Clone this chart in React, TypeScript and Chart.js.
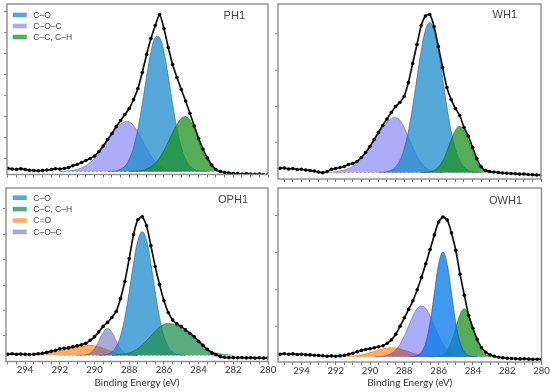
import React, { useEffect, useRef } from 'react';
import { Chart, registerables } from 'chart.js';

Chart.register(...registerables);

const _ = null;

// Binding energy grid (eV), shared by every series
const ENERGY = [
  295.5, 295.25, 295, 294.75, 294.5, 294.25, 294, 293.75, 293.5, 293.25,
  293, 292.75, 292.5, 292.25, 292, 291.75, 291.5, 291.25, 291, 290.75,
  290.5, 290.25, 290, 289.75, 289.5, 289.25, 289, 288.75, 288.5, 288.25,
  288, 287.75, 287.5, 287.25, 287, 286.75, 286.5, 286.25, 286, 285.75,
  285.5, 285.25, 285, 284.75, 284.5, 284.25, 284, 283.75, 283.5, 283.25,
  283, 282.75, 282.5, 282.25, 282, 281.75, 281.5, 281.25, 281, 280.75,
  280.5, 280.25, 280,
];

// ---------- PH1 ----------
const PH1_DATA = [
  3, 3.5, 3.2, 2.5, 2.2, 2.8, 2.0, 1.2, 1.0, 0.8,
  1.0, 1.5, 2.0, 2.8, 2.5, 3.0, 4.0, 5.8, 7.0, 9.0,
  11, 13, 15.5, 20, 25.5, 32, 38, 45, 51, 57,
  63, 72, 83, 99, 117, 133, 146, 157, 143, 124,
  107, 94, 82, 70.5, 58, 45.5, 33, 22.5, 13.5, 6.5,
  2, 0, -1, -1.5, -2, -2, -2.5, -2.2, -2.5, -2.8,
  -2.5, -3, -3,
];
const PH1_CO = [
  _, _, _, _, _, _, _, _, _, _,
  _, _, _, _, _, _, _, _, _, _,
  _, _, _, _, _, 0, 0.25, 0.8, 2.2, 5.5,
  12.2, 24.2, 42.8, 67.6, 95.2, 119.6, 134.1, 134.1, 119.6, 95.2,
  67.6, 42.8, 24.2, 12.2, 5.5, 2.2, 0.8, 0.25, 0, _,
  _, _, _, _, _, _, _, _, _, _,
  _, _, _,
];
const PH1_COC = [
  _, _, _, _, _, _, _, _, _, _,
  _, _, _, _, 0, 0.3, 0.7, 1.2, 2.2, 3.7,
  5.9, 9.1, 13.2, 18.4, 24.5, 31.0, 37.4, 43.1, 47.4, 49.7,
  49.5, 45.8, 39.3, 31.2, 22.9, 15.6, 9.8, 5.7, 3.1, 1.5,
  0.7, 0.3, 0, _, _, _, _, _, _, _,
  _, _, _, _, _, _, _, _, _, _,
  _, _, _,
];
const PH1_CC = [
  _, _, _, _, _, _, _, _, _, _,
  _, _, _, _, _, _, _, _, _, _,
  _, _, _, _, _, _, _, _, _, _,
  0, 0.2, 0.5, 1.2, 2.4, 4.7, 8.3, 13.7, 21.0, 29.7,
  38.9, 47.1, 52.9, 55, 51.6, 42.6, 31.0, 19.8, 11.2, 5.5,
  2.4, 0.9, 0.3, 0, _, _, _, _, _, _,
  _, _, _,
];
const PH1_YTICKS = [13, 34, 55, 76, 97, 118, 139, 160];
const PH1_LEGEND = ['C–O', 'C–O–C', 'C–C, C–H'];

// ---------- WH1 ----------
const WH1_DATA = [
  4, 4.2, 4.5, 3.5, 4, 3, 3.2, 2.5, 2, 1.5,
  0.5, -0.2, 1, 3.2, 4, 5, 6, 8, 9, 11,
  15, 20, 26, 33, 40, 47, 53.5, 60, 66, 70,
  76, 90, 109, 128, 147, 156.5, 158, 146, 126, 105,
  85, 73, 64, 57, 45, 36.5, 25, 14, 5.7, 2,
  1, 0.5, 0, -0.5, -0.8, -1, -1.2, -1.6, -1.5, -2,
  -2.2, -2.5, -2.5,
];
const WH1_CO = [
  _, _, _, _, _, _, _, _, _, _,
  _, _, _, _, _, _, _, _, _, _,
  _, _, _, _, 0, 0.3, 0.9, 2.3, 5.6, 12.1,
  23.6, 41.5, 65.9, 94.5, 122.1, 142.5, 150, 142.5, 122.1, 94.5,
  65.9, 41.5, 23.6, 12.1, 5.6, 2.3, 0.9, 0.3, 0, _,
  _, _, _, _, _, _, _, _, _, _,
  _, _, _,
];
const WH1_COC = [
  _, _, _, _, _, _, _, _, _, _,
  _, _, 0, 0.4, 0.8, 1.4, 2.4, 4.0, 6.3, 9.5,
  13.7, 19, 25.2, 32, 38.9, 45.2, 50.4, 53.8, 55, 52.4,
  45.2, 35.4, 25.2, 16.2, 9.5, 5.0, 2.4, 1.1, 0.4, 0,
  _, _, _, _, _, _, _, _, _, _,
  _, _, _, _, _, _, _, _, _, _,
  _, _, _,
];
const WH1_CC = [
  _, _, _, _, _, _, _, _, _, _,
  _, _, _, _, _, _, _, _, _, _,
  _, _, _, _, _, _, _, _, _, _,
  _, _, _, _, 0, 0.2, 0.65, 2.0, 5.3, 11.5,
  21.1, 32.5, 42.2, 46, 42.2, 32.5, 21.1, 11.5, 5.3, 2.0,
  0.65, 0.2, 0, _, _, _, _, _, _, _,
  _, _, _,
];
const WH1_YTICKS = [30, 66, 102.5, 139];

// ---------- OPH1 ----------
const OPH1_DATA = [
  1, 1.5, 1, 1.5, 1, 1.2, 1, 0.8, 1, 1.5,
  2, 3, 4, 5, 6.5, 7, 7.5, 8.5, 9.5, 10.5,
  12, 15, 18.5, 23.5, 29, 33, 38, 44, 57, 74,
  97, 121, 136, 139, 130, 110, 89, 71, 55, 43,
  35.5, 31.5, 28.8, 25.5, 22, 18.5, 14, 10, 6, 2.5,
  0.5, -1.3, -2, -2.3, -2.3, -2.5, -2.3, -2.6, -2.4, -2.8,
  -2.5, -2.8, -2.8,
];
const OPH1_CO = [
  _, _, _, _, _, _, _, _, _, _,
  _, _, _, _, _, _, _, _, _, _,
  _, _, _, 0, 0.3, 1.1, 3.3, 8.7, 19.5, 38.0,
  63.7, 92.2, 115.2, 124, 115.2, 92.2, 63.7, 38.0, 19.5, 8.7,
  3.3, 1.1, 0.3, 0, _, _, _, _, _, _,
  _, _, _, _, _, _, _, _, _, _,
  _, _, _,
];
const OPH1_CC = [
  _, _, _, _, _, _, _, _, _, _,
  _, _, _, _, _, _, _, _, _, _,
  _, _, _, _, _, _, 0, 0.35, 0.7, 1.4,
  2.5, 4.3, 6.9, 10.4, 14.7, 19.4, 24.2, 28.2, 31, 32,
  31.4, 29.7, 27.1, 23.8, 20.2, 16.4, 12.9, 9.8, 6.5, 4.0,
  2.4, 1.4, 0.8, 0.4, 0, _, _, _, _, _,
  _, _, _,
];
const OPH1_CEO = [
  _, _, _, _, _, _, 0, 0.44, 0.7, 1.0,
  1.5, 2.0, 2.7, 3.6, 4.6, 5.6, 6.7, 7.7, 8.7, 9.4,
  9.8, 10, 9.6, 8.6, 7.1, 5.4, 3.8, 2.5, 1.5, 0.85,
  0.44, 0.2, 0, _, _, _, _, _, _, _,
  _, _, _, _, _, _, _, _, _, _,
  _, _, _, _, _, _, _, _, _, _,
  _, _, _,
];
const OPH1_COC = [
  _, _, _, _, _, _, _, _, _, _,
  _, _, _, _, _, _, _, _, 0, 0.1,
  0.6, 2.3, 6.7, 14.6, 23.1, 27, 23.1, 14.6, 6.7, 2.3,
  0.6, 0.1, 0, _, _, _, _, _, _, _,
  _, _, _, _, _, _, _, _, _, _,
  _, _, _, _, _, _, _, _, _, _,
  _, _, _,
];
const OPH1_YTICKS = [19.5, 45, 70.5, 96, 121.5, 147];
const OPH1_LEGEND = ['C–O', 'C–C, C–H', 'C=O', 'C–O–C'];

// ---------- OWH1 ----------
const OWH1_DATA = [
  3, 2.5, 3, 2.5, 2.8, 2.2, 2.5, 2, 1.8, 1.5,
  1.2, 1, 0.5, 0.8, 0.5, 0.8, 1.5, 2.5, 3.5, 5,
  6.3, 7.2, 8, 9, 10, 11, 13.5, 17, 22.5, 30.5,
  39, 47.4, 56, 67, 79.5, 93, 107.4, 122, 135, 140,
  137, 124, 106.6, 82.5, 61.5, 41.5, 28.5, 17.4, 9, 4.5,
  2, 0.5, -0.5, -1, -1.5, -1.8, -2, -2.2, -2, -2.4,
  -2.6, -2.5, -2.6,
];
const OWH1_CO = [
  _, _, _, _, _, _, _, _, _, _,
  _, _, _, _, _, _, _, _, _, _,
  _, _, _, _, _, _, _, _, _, _,
  _, 0, 0.2, 1.2, 4.6, 14.2, 34.1, 63.7, 92.7, 105,
  92.7, 63.7, 34.1, 14.2, 4.6, 1.2, 0.2, 0, _, _,
  _, _, _, _, _, _, _, _, _, _,
  _, _, _,
];
const OWH1_COC = [
  _, _, _, _, _, _, _, _, _, _,
  _, _, _, _, _, _, _, _, _, _,
  _, _, _, 0, 0.2, 0.6, 1.5, 3.4, 6.9, 12.7,
  21.0, 30.9, 40.8, 48.2, 51, 48.2, 40.8, 30.9, 21.0, 12.7,
  6.9, 3.4, 1.5, 0.6, 0.2, 0, _, _, _, _,
  _, _, _, _, _, _, _, _, _, _,
  _, _, _,
];
const OWH1_CC = [
  _, _, _, _, _, _, _, _, _, _,
  _, _, _, _, _, _, _, _, _, _,
  _, _, _, _, _, _, _, _, _, _,
  _, _, _, _, _, _, 0, 0.1, 0.5, 2.1,
  6.5, 15.6, 29.1, 42.4, 48, 42.4, 29.1, 15.6, 6.5, 2.1,
  0.5, 0.1, 0, _, _, _, _, _, _, _,
  _, _, _,
];
const OWH1_CEO = [
  _, _, _, _, _, _, _, _, _, _,
  _, _, _, _, _, _, 0, 0.4, 0.7, 1.2,
  1.9, 2.9, 4.1, 5.5, 6.8, 7.9, 8.7, 9, 8.7, 7.7,
  6.4, 4.9, 3.4, 2.2, 1.4, 0.8, 0.4, 0, _, _,
  _, _, _, _, _, _, _, _, _, _,
  _, _, _, _, _, _, _, _, _, _,
  _, _, _,
];
const OWH1_YTICKS = [30.5, 67.5, 104.5, 141.5];

// background baseline span, eV
const BASE_SPAN = [292, 282.5];
const AXIS_TITLE = 'Binding Energy (eV)';

// ---------- styles ----------
const C_BLUE = { fill: 'rgba(30,139,203,0.75)', border: 'rgba(25,90,140,0.8)' };
const C_BLUE2 = { fill: 'rgba(12,124,234,0.78)', border: 'rgba(20,70,140,0.8)' };
const C_LAV = { fill: 'rgba(12,12,235,0.34)', border: 'rgba(60,60,160,0.6)' };
const C_LAV2 = { fill: 'rgba(83,83,177,0.5)', border: 'rgba(60,60,120,0.6)' };
const C_GREEN = { fill: 'rgba(28,146,35,0.75)', border: 'rgba(20,80,25,0.7)' };
const C_SEA = { fill: 'rgba(35,143,85,0.75)', border: 'rgba(20,80,50,0.7)' };
const C_ORANGE = { fill: 'rgba(255,146,43,0.75)', border: 'rgba(170,90,30,0.6)' };

type Comp = { label: string; values: (number | null)[]; fill: string; border: string; order: number };
type PanelSpec = {
  key: string;
  canvas: { x: number; y: number; w: number; h: number };
  area: { left: number; top: number; right: number; bottom: number };
  xMax: number;
  yMin: number;
  yMax: number;
  yTicks: number[];
  data: number[];
  comps: Comp[];
  legend: string[] | null;
  legendY0: number;
  legendDy: number;
  legendDx: number;
  xLabels: boolean;
  nameDx: number;
  nameDy: number;
};

const PANELS: PanelSpec[] = [
  {
    key: 'PH1',
    canvas: { x: 0, y: 0, w: 280, h: 184 },
    area: { left: 7, top: 4, right: 268, bottom: 174.5 },
    xMax: 295.05, yMin: -3, yMax: 167.5, yTicks: PH1_YTICKS, data: PH1_DATA,
    comps: [
      { label: 'C–C, C–H', values: PH1_CC, ...C_GREEN, order: 1 },
      { label: 'C–O', values: PH1_CO, ...C_BLUE, order: 2 },
      { label: 'C–O–C', values: PH1_COC, ...C_LAV, order: 3 },
    ],
    legend: PH1_LEGEND, legendY0: 11, legendDy: 11, legendDx: 5.7,
    xLabels: false, nameDx: 23, nameDy: 12,
  },
  {
    key: 'WH1',
    canvas: { x: 270, y: 0, w: 280, h: 184 },
    area: { left: 278, top: 4, right: 541, bottom: 179 },
    xMax: 295.37, yMin: -6.5, yMax: 168.5, yTicks: WH1_YTICKS, data: WH1_DATA,
    comps: [
      { label: 'C–C, C–H', values: WH1_CC, ...C_GREEN, order: 1 },
      { label: 'C–O', values: WH1_CO, ...C_BLUE, order: 2 },
      { label: 'C–O–C', values: WH1_COC, ...C_LAV, order: 3 },
    ],
    legend: null, legendY0: 0, legendDy: 0, legendDx: 0,
    xLabels: false, nameDx: 24, nameDy: 11,
  },
  {
    key: 'OPH1',
    canvas: { x: 0, y: 184, w: 280, h: 208 },
    area: { left: 6, top: 187.5, right: 268, bottom: 361.5 },
    xMax: 295.1, yMin: -6.2, yMax: 167.8, yTicks: OPH1_YTICKS, data: OPH1_DATA,
    comps: [
      { label: 'C–C, C–H', values: OPH1_CC, ...C_SEA, order: 1 },
      { label: 'C–O', values: OPH1_CO, ...C_BLUE, order: 2 },
      { label: 'C–O–C', values: OPH1_COC, ...C_LAV2, order: 3 },
      { label: 'C=O', values: OPH1_CEO, ...C_ORANGE, order: 4 },
    ],
    legend: OPH1_LEGEND, legendY0: 9.7, legendDy: 11.4, legendDx: 6.7,
    xLabels: true, nameDx: 20, nameDy: 11.5,
  },
  {
    key: 'OWH1',
    canvas: { x: 270, y: 184, w: 280, h: 208 },
    area: { left: 278, top: 187.7, right: 541.5, bottom: 362 },
    xMax: 295.37, yMin: -5.3, yMax: 169, yTicks: OWH1_YTICKS, data: OWH1_DATA,
    comps: [
      { label: 'C–O', values: OWH1_CO, ...C_BLUE2, order: 1 },
      { label: 'C–C, C–H', values: OWH1_CC, ...C_GREEN, order: 2 },
      { label: 'C–O–C', values: OWH1_COC, ...C_LAV, order: 3 },
      { label: 'C=O', values: OWH1_CEO, ...C_ORANGE, order: 4 },
    ],
    legend: null, legendY0: 0, legendDy: 0, legendDx: 0,
    xLabels: true, nameDx: 19.5, nameDy: 13.3,
  },
];

const decoPlugin = {
  id: 'panelDeco',
  afterDatasetsDraw(chart: any, _args: any, opts: any) {
    const { ctx, chartArea: a } = chart;
    ctx.save();
    ctx.strokeStyle = '#8c8c8c';
    ctx.lineWidth = 1.4;
    ctx.strokeRect(a.left, a.top, a.right - a.left, a.bottom - a.top);
    ctx.fillStyle = '#444';
    ctx.font = '11px "Liberation Sans", Arial, sans-serif';
    ctx.textAlign = 'right';
    ctx.textBaseline = 'middle';
    ctx.fillText(opts.name, a.right - opts.nameDx, a.top + opts.nameDy);
    if (opts.legend) {
      ctx.font = '8.5px "Liberation Sans", Arial, sans-serif';
      ctx.textAlign = 'left';
      opts.legend.forEach((it: any, i: number) => {
        const y = a.top + opts.legendY0 + i * opts.legendDy;
        const bx = a.left + opts.legendDx;
        ctx.fillStyle = '#fff';
        ctx.fillRect(bx, y - 2.3, 14, 4.6);
        ctx.fillStyle = it.color;
        ctx.fillRect(bx, y - 2.3, 14, 4.6);
        ctx.fillStyle = '#444';
        ctx.fillText(it.label, bx + 20.6, y + 0.5);
      });
    }
    ctx.restore();
  },
};

function buildConfig(p: PanelSpec): any {
  const pts = (vals: (number | null)[]) => ENERGY.map((x, i) => ({ x, y: vals[i] }));
  const yAxisW = p.area.left - p.canvas.x;
  const xAxisH = p.canvas.y + p.canvas.h - p.area.bottom;
  const xTicks = ENERGY.filter((e) => Number.isInteger(e * 2) && e <= p.xMax);
  const datasets: any[] = [
    {
      label: 'data', data: pts(p.data), borderColor: '#111', borderWidth: 1.7,
      pointRadius: 1.8, pointBackgroundColor: '#000', pointBorderWidth: 0,
      fill: false, tension: 0.2, order: 0,
    },
    ...p.comps.map((c) => ({
      label: c.label, data: pts(c.values), borderColor: c.border, borderWidth: 0.7,
      backgroundColor: c.fill, fill: 'origin', pointRadius: 0, tension: 0.4,
      order: c.order, spanGaps: false,
    })),
    {
      label: 'background', data: BASE_SPAN.map((x) => ({ x, y: 0 })),
      borderColor: 'rgba(230,140,60,0.9)', borderWidth: 0.8, borderDash: [2, 2],
      pointRadius: 0, fill: false, order: 20,
    },
  ];
  const legendItems = p.legend
    ? p.legend.map((lab) => {
        const c = p.comps.find((k) => k.label === lab)!;
        return { label: lab, color: c.fill };
      })
    : null;
  return {
    type: 'line',
    data: { datasets },
    plugins: [decoPlugin],
    options: {
      animation: false,
      responsive: false,
      maintainAspectRatio: false,
      events: [],
      layout: {
        padding: {
          left: 0,
          top: p.area.top - p.canvas.y,
          right: p.canvas.x + p.canvas.w - p.area.right,
          bottom: 0,
        },
      },
      plugins: {
        legend: { display: false },
        tooltip: { enabled: false },
        panelDeco: {
          name: p.key, nameDx: p.nameDx, nameDy: p.nameDy,
          legend: legendItems, legendY0: p.legendY0, legendDy: p.legendDy, legendDx: p.legendDx,
        },
      },
      scales: {
        x: {
          type: 'linear', reverse: true, min: 280, max: p.xMax,
          afterBuildTicks: (s: any) => { s.ticks = xTicks.map((v) => ({ value: v })); },
          afterFit: (s: any) => { s.height = xAxisH; s.paddingLeft = 0; s.paddingRight = 0; },
          ticks: {
            display: p.xLabels, autoSkip: false, maxRotation: 0, padding: 0,
            color: '#333', font: { family: 'Lato', size: 9.5 },
            callback: (v: any) => (Number.isInteger(v) && v % 2 === 0 ? String(v) : ''),
          },
          grid: { display: true, drawOnChartArea: false, drawTicks: true, tickLength: 3, color: '#555', lineWidth: 0.8 },
          border: { display: false },
          title: {
            display: p.xLabels, text: AXIS_TITLE, color: '#333',
            font: { family: 'Lato', size: 10 }, padding: { top: 0, bottom: 3 },
          },
        },
        y: {
          type: 'linear', min: p.yMin, max: p.yMax,
          afterBuildTicks: (s: any) => { s.ticks = p.yTicks.map((v) => ({ value: v })); },
          afterFit: (s: any) => { s.width = yAxisW; s.paddingTop = 0; s.paddingBottom = 0; },
          ticks: { display: false },
          grid: { display: true, drawOnChartArea: false, drawTicks: true, tickLength: 3, color: '#666', lineWidth: 0.8 },
          border: { display: false },
        },
      },
    },
  };
}

function Panel({ spec }: { spec: PanelSpec }) {
  const ref = useRef<HTMLCanvasElement | null>(null);
  useEffect(() => {
    if (!ref.current) return;
    const chart = new Chart(ref.current, buildConfig(spec));
    return () => chart.destroy();
  }, [spec]);
  return (
    <canvas
      ref={ref}
      width={spec.canvas.w}
      height={spec.canvas.h}
      style={{
        position: 'absolute', left: spec.canvas.x, top: spec.canvas.y,
        width: spec.canvas.w, height: spec.canvas.h,
      }}
    />
  );
}

export default function App() {
  return (
    <div
      style={{
        position: 'fixed', left: 0, top: 0, width: 550, height: 392,
        background: '#fff', overflow: 'hidden',
      }}
    >
      {PANELS.map((p) => (
        <Panel key={p.key} spec={p} />
      ))}
    </div>
  );
}
